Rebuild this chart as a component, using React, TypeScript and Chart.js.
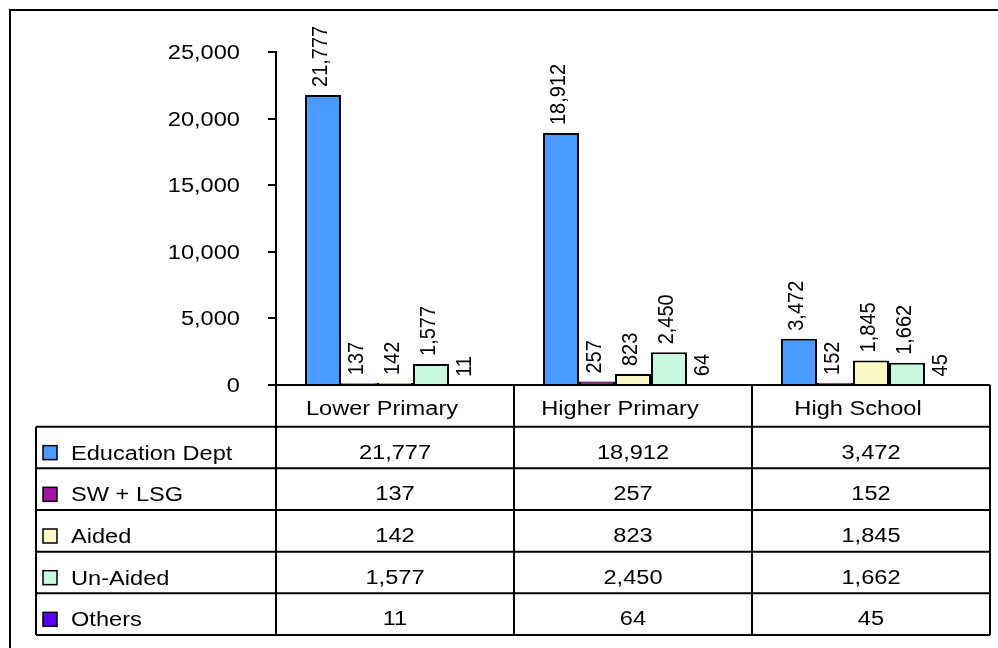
import React, { useEffect, useRef } from "react";
import { Chart, registerables } from "chart.js";

Chart.register(...registerables);

const categories = ["Lower Primary", "Higher Primary", "High School"];
const seriesNames = ["Education Dept", "SW + LSG", "Aided", "Un-Aided", "Others"];
const educationDept = [21777, 18912, 3472];
const swLsg = [137, 257, 152];
const aided = [142, 823, 1845];
const unAided = [1577, 2450, 1662];
const others = [11, 64, 45];
const yTicks = [0, 5000, 10000, 15000, 20000, 25000];
const seriesColors = ["#4a9bff", "#a316a3", "#fafac8", "#c8f8e0", "#5a00f0"];

const allSeries = [educationDept, swLsg, aided, unAided, others];

const FONT = '20px "Liberation Sans", Arial, sans-serif';
const SX = 1.18;

const fmt = (v: number) => v.toLocaleString("en-US");

function txt(ctx: CanvasRenderingContext2D, s: string, x: number, y: number, align: CanvasTextAlign) {
  ctx.save();
  ctx.translate(x, y);
  ctx.scale(SX, 1);
  ctx.font = FONT;
  ctx.fillStyle = "#000";
  ctx.textAlign = align;
  ctx.textBaseline = "alphabetic";
  ctx.fillText(s, 0, 0);
  ctx.restore();
}

function vtxt(ctx: CanvasRenderingContext2D, s: string, x: number, y: number) {
  ctx.save();
  ctx.translate(x, y);
  ctx.scale(1.12, 1);
  ctx.rotate(-Math.PI / 2);
  ctx.font = FONT;
  ctx.fillStyle = "#000";
  ctx.textAlign = "left";
  ctx.textBaseline = "middle";
  ctx.fillText(s, 0, 0);
  ctx.restore();
}

const tablePlugin = {
  id: "tablePlugin",
  afterDraw(chart: any) {
    const ctx: CanvasRenderingContext2D = chart.ctx;
    const { left, right, bottom } = chart.chartArea;
    const xs = chart.scales.x;
    const ys = chart.scales.y;

    ctx.save();
    ctx.strokeStyle = "#000";
    ctx.lineWidth = 2;
    // outer frame
    ctx.beginPath();
    ctx.moveTo(10, 648);
    ctx.lineTo(10, 10);
    ctx.lineTo(998, 10);
    ctx.stroke();

    // y tick labels
    yTicks.forEach((v) => {
      const py = ys.getPixelForValue(v);
      txt(ctx, fmt(v), 240, py + 7, "right");
    });

    // data labels
    allSeries.forEach((arr, i) => {
      const meta = chart.getDatasetMeta(i);
      meta.data.forEach((bar: any, j: number) => {
        vtxt(ctx, fmt(arr[j]), bar.x - 2, bar.y - 8);
      });
    });

    // data table
    const top = bottom;
    const tableBottom = 635;
    const rowH = (tableBottom - top) / 6;
    const legendLeft = 36;
    const colW = (right - left) / categories.length;

    ctx.lineWidth = 2;
    ctx.beginPath();
    ctx.moveTo(left, top);
    ctx.lineTo(right, top);
    for (let r = 1; r <= 6; r++) {
      const yy = top + rowH * r;
      ctx.moveTo(legendLeft, yy);
      ctx.lineTo(right, yy);
    }
    ctx.moveTo(legendLeft, top + rowH);
    ctx.lineTo(legendLeft, tableBottom);
    for (let c = 0; c <= categories.length; c++) {
      const xx = left + colW * c;
      ctx.moveTo(xx, top);
      ctx.lineTo(xx, tableBottom);
    }
    ctx.stroke();

    categories.forEach((cat, j) => {
      const cx = xs.getPixelForValue(j);
      txt(ctx, cat, cx - 13, top + 30, "center");
    });

    seriesNames.forEach((name, i) => {
      const rowTop = top + rowH * (i + 1);
      ctx.fillStyle = seriesColors[i];
      ctx.fillRect(43, rowTop + 19, 14, 14);
      ctx.lineWidth = 1.5;
      ctx.strokeStyle = "#000";
      ctx.strokeRect(43, rowTop + 19, 14, 14);
      txt(ctx, name, 71, rowTop + 33, "left");
      allSeries[i].forEach((v, j) => {
        const cx = xs.getPixelForValue(j);
        txt(ctx, fmt(v), cx, rowTop + 32, "center");
      });
    });
    ctx.restore();
  },
};

export default function App() {
  const ref = useRef<HTMLCanvasElement>(null);
  useEffect(() => {
    if (!ref.current) return;
    const chart = new Chart(ref.current, {
      type: "bar",
      data: {
        labels: categories,
        datasets: seriesNames.map((name, i) => ({
          label: name,
          data: allSeries[i],
          backgroundColor: seriesColors[i],
          borderColor: "#000",
          borderWidth: 2,
          categoryPercentage: 0.756,
          barPercentage: 1,
        })),
      },
      options: {
        responsive: false,
        animation: false,
        layout: { padding: { top: 52, right: 8, bottom: 263, left: 0 } },
        plugins: { legend: { display: false }, tooltip: { enabled: false } },
        scales: {
          x: { display: false },
          y: {
            min: 0,
            max: 25000,
            afterFit: (s: any) => {
              s.width = 276;
            },
            afterBuildTicks: (s: any) => {
              s.ticks = yTicks.map((v) => ({ value: v }));
            },
            ticks: { display: false },
            grid: {
              drawOnChartArea: false,
              drawTicks: true,
              tickLength: 8,
              color: "#000",
              lineWidth: 2,
            },
            border: { display: true, color: "#000", width: 2 },
          },
        },
      },
      plugins: [tablePlugin],
    });
    return () => chart.destroy();
  }, []);
  return (
    <div style={{ position: "fixed", left: 0, top: 0, width: 998, height: 648, background: "#fff" }}>
      <canvas ref={ref} width={998} height={648} />
    </div>
  );
}
